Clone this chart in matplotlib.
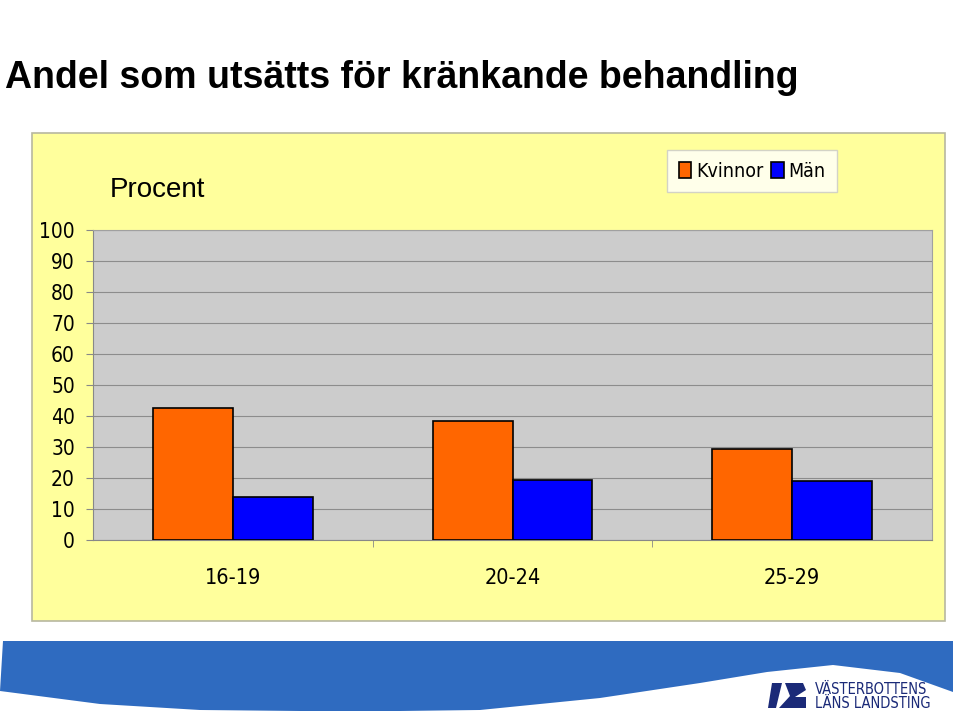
import numpy as np
import matplotlib
matplotlib.use("Agg")
import matplotlib.pyplot as plt
from matplotlib.patches import Rectangle, Polygon

# data
age_groups = ["16-19", "20-24", "25-29"]
kvinnor = [42.5, 38.3, 29.2]
man = [14.0, 19.5, 18.9]
y_ticks = list(range(0, 101, 10))

W, H = 960, 716
plt.rcParams["font.family"] = ["Liberation Sans", "DejaVu Sans"]
# narrow font for ticks and legend (reference uses Arial Narrow)
narrow = dict(family="DejaVu Sans", stretch="condensed")

fig = plt.figure(figsize=(W / 100, H / 100), dpi=100)
fig.patch.set_facecolor("white")

# background decorations in pixel coordinates
bg = fig.add_axes([0, 0, 1, 1], zorder=0)
bg.set_xlim(0, W)
bg.set_ylim(H, 0)
bg.axis("off")

bg.add_patch(Rectangle((32, 133), 913, 488, facecolor="#ffff9c",
                       edgecolor="#b8b8a0", lw=1.2))

# blue wave banner at the bottom
xs = [0, 100, 200, 300, 400, 480, 600, 700, 767, 833, 900, 953]
ys = [691, 704, 710, 711, 711, 710, 698, 683, 672, 665, 673, 692]
top = [(953, 641), (3, 641)]
bg.add_patch(Polygon(list(zip(xs, ys)) + top, closed=True,
                     facecolor="#2f6bc0", edgecolor="none"))

# logo
navy = "#1b2a78"
bg.add_patch(Polygon([(772, 683), (782, 683), (776, 708), (768, 708)],
                     closed=True, facecolor=navy))
bg.add_patch(Polygon([(785, 683), (803, 683), (806, 690), (795, 697),
                      (806, 697), (806, 708), (779, 708), (790, 696)],
                     closed=True, facecolor=navy))
bg.text(815, 689, "VÄSTERBOTTENS", fontsize=10.5, color=navy, va="center",
        **narrow)
bg.text(815, 703, "LÄNS LANDSTING", fontsize=10.5, color=navy, va="center",
        **narrow)

# title
bg.text(5, 78, "Andel som utsätts för kränkande behandling", fontsize=27,
        fontweight="bold", va="center", ha="left", color="black")
bg.text(110, 190, "Procent", fontsize=20, va="center", ha="left")

# chart
ax = fig.add_axes([93 / W, (H - 540) / H, 839 / W, 310 / H], zorder=2)
ax.set_facecolor("#cccccc")
x = np.arange(len(age_groups))
bw = 0.286
b1 = ax.bar(x - bw / 2, kvinnor, bw, color="#ff6600", edgecolor="black",
            lw=1.2, label="Kvinnor", zorder=3)
b2 = ax.bar(x + bw / 2, man, bw, color="#0000ff", edgecolor="black",
            lw=1.2, label="Män", zorder=3)

ax.set_xlim(-0.5, 2.5)
ax.set_ylim(0, 100)
ax.set_yticks(y_ticks)
ax.set_yticklabels([str(v) for v in y_ticks], fontsize=15, **narrow)
ax.set_xticks(x)
ax.set_xticklabels(age_groups, fontsize=15.5, **narrow)
ax.set_xticks([0.5, 1.5], minor=True)
ax.tick_params(axis="x", which="major", length=0, pad=20)
ax.tick_params(axis="x", which="minor", length=5, color="#888888")
ax.tick_params(axis="y", length=5, color="#888888", pad=8)
ax.grid(axis="y", color="#8c8c8c", lw=0.8, zorder=1)
for s in ["top", "right"]:
    ax.spines[s].set_color("#a0a0a0")
ax.spines["left"].set_color("#888888")
ax.spines["bottom"].set_color("#888888")

leg = fig.legend(handles=[b1, b2], loc="upper left",
                 bbox_to_anchor=(667 / W, 1 - 150 / H), ncol=2,
                 frameon=True, fancybox=False, handlelength=0.65,
                 handleheight=0.9, handletextpad=0.25, columnspacing=0.4,
                 borderpad=0.6, borderaxespad=0,
                 prop=dict(size=14, **narrow))
leg.get_frame().set_edgecolor("#c8c8c8")
leg.get_frame().set_linewidth(1.0)

fig.savefig("out.png", dpi=100)
